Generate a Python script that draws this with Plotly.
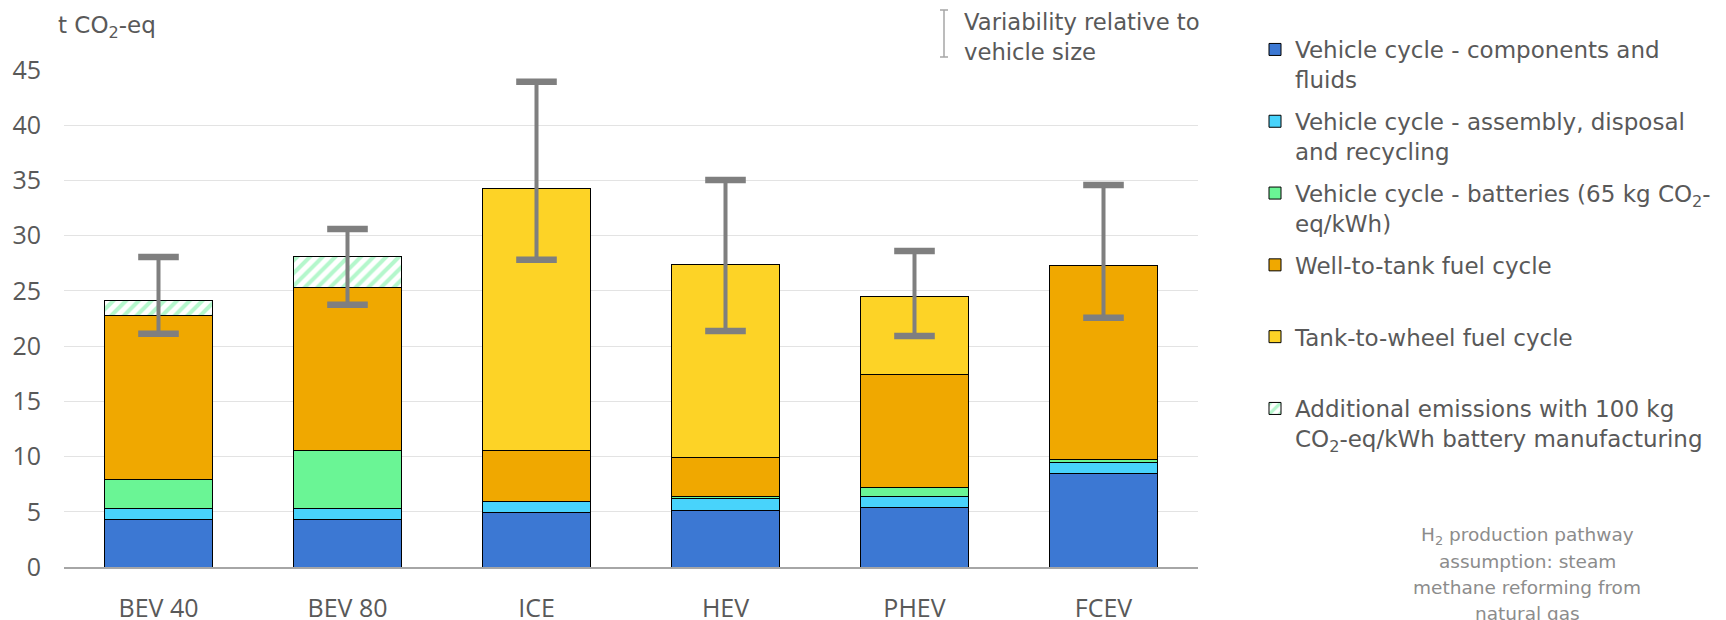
import plotly.graph_objects as go

# ---------------- data ----------------
categories = ["BEV 40", "BEV 80", "ICE", "HEV", "PHEV", "FCEV"]
components = [4.26, 4.26, 4.94, 5.16, 5.37, 8.49]
assembly = [1.00, 1.00, 1.00, 1.00, 1.00, 1.00]
batteries = [2.65, 5.30, None, 0.21, 0.79, 0.28]
well_to_tank = [14.82, 14.79, 4.62, 3.51, 10.31, 17.55]
tank_to_wheel = [None, None, 23.67, 17.55, 7.02, None]
additional = [1.44, 2.76, None, None, None, None]
err_high = [28.07, 30.61, 43.93, 35.05, 28.61, 34.59]
err_low = [21.12, 23.74, 27.82, 21.37, 20.91, 22.56]

series_names = [
    "Vehicle cycle - components and<br>fluids",
    "Vehicle cycle - assembly, disposal<br>and recycling",
    "Vehicle cycle - batteries (65 kg CO<sub>2</sub>-<br>eq/kWh)",
    "Well-to-tank fuel cycle<br> ",
    "Tank-to-wheel fuel cycle<br> ",
    "Additional emissions with 100 kg<br>CO<sub>2</sub>-eq/kWh battery manufacturing",
]
y_ticks = [0, 5, 10, 15, 20, 25, 30, 35, 40, 45]

# ---------------- geometry helpers ----------------
W, H = 1726, 620
L, R, T, B = 64, 1198, 70, 567


def px_x(px):
    return (px - L) / (R - L)


def px_y(py):
    return (B - py) / (B - T)


GRAY_TXT = "#595959"
TXT_FONT = "DejaVu Sans"
colors = ["#3C78D3", "#48D3FB", "#6AF595", "#F0A800", "#FDD326"]
series_vals = [components, assembly, batteries, well_to_tank, tank_to_wheel]

fig = go.Figure()
for i, (vals, col) in enumerate(zip(series_vals, colors)):
    fig.add_trace(go.Bar(
        x=categories, y=vals, name=series_names[i],
        legendgroup=f"g{i}",
        marker=dict(color=col, line=dict(color="black", width=1)),
    ))

fig.add_trace(go.Bar(
    x=categories, y=additional, name=series_names[5], legendgroup="g5",
    marker=dict(color="white", line=dict(color="black", width=1),
                pattern=dict(shape="/", fgcolor="#6AF09A", bgcolor="white",
                             size=9, solidity=0.45, fillmode="overlay")),
))

# error bar stems
mid = [(h + l) / 2 for h, l in zip(err_high, err_low)]
half = [(h - l) / 2 for h, l in zip(err_high, err_low)]
fig.add_trace(go.Scatter(
    x=categories, y=mid, mode="markers", showlegend=False,
    marker=dict(size=1, color="rgba(0,0,0,0)"),
    error_y=dict(type="data", array=half, visible=True, width=0,
                 thickness=4, color="#7F7F7F"),
    hoverinfo="skip",
))
# error bar caps
fig.add_trace(go.Scatter(
    x=categories + categories, y=err_high + err_low, mode="markers",
    showlegend=False,
    marker=dict(symbol="line-ew", size=29,
                line=dict(width=6.5, color="#7F7F7F")),
    hoverinfo="skip",
))

annotations = [
    dict(text="t CO<sub>2</sub>-eq", x=px_x(56), y=px_y(27), xref="paper", yref="paper",
         xanchor="left", yanchor="middle", showarrow=False,
         font=dict(family=TXT_FONT, size=23, color=GRAY_TXT)),
    dict(text="Variability relative to", x=px_x(962), y=px_y(22), xref="paper", yref="paper",
         xanchor="left", yanchor="middle", showarrow=False,
         font=dict(family=TXT_FONT, size=22.7, color=GRAY_TXT)),
    dict(text="vehicle size", x=px_x(962), y=px_y(52), xref="paper", yref="paper",
         xanchor="left", yanchor="middle", showarrow=False,
         font=dict(family=TXT_FONT, size=22.7, color=GRAY_TXT)),
]
note_lines = ["H<sub>2</sub> production pathway", "assumption: steam",
              "methane reforming from", "natural gas"]
note_y = [536, 561.5, 587, 613]
for txt, yy in zip(note_lines, note_y):
    annotations.append(dict(text=txt, x=px_x(1527), y=px_y(yy), xref="paper", yref="paper",
                            xanchor="center", yanchor="middle", showarrow=False,
                            font=dict(family=TXT_FONT, size=18.5, color="#8C8C8C")))

shapes = [
    dict(type="line", xref="paper", yref="paper", x0=px_x(944), x1=px_x(944),
         y0=px_y(10), y1=px_y(57), line=dict(color="#A6A6A6", width=1.5)),
    dict(type="line", xref="paper", yref="paper", x0=px_x(940), x1=px_x(948),
         y0=px_y(10), y1=px_y(10), line=dict(color="#A6A6A6", width=1.5)),
    dict(type="line", xref="paper", yref="paper", x0=px_x(940), x1=px_x(948),
         y0=px_y(57), y1=px_y(57), line=dict(color="#A6A6A6", width=1.5)),
]

fig.update_layout(
    width=W, height=H,
    margin=dict(l=L, r=W - R, t=T, b=H - B, pad=0, autoexpand=False),
    paper_bgcolor="white", plot_bgcolor="white",
    barmode="stack", bargap=0.43,
    font=dict(family=TXT_FONT, color=GRAY_TXT),
    xaxis=dict(showgrid=False, showline=True, linecolor="#A6A6A6", linewidth=1.5,
               ticks="", ticklabelstandoff=18, automargin=False,
               tickfont=dict(family="Open Sans", size=25, color=GRAY_TXT)),
    yaxis=dict(range=[0, 45], tickvals=y_ticks, showgrid=True, gridcolor="#E3E3E3",
               gridwidth=1.3, zeroline=False, showline=False, ticks="",
               ticklabelstandoff=22, automargin=False,
               tickfont=dict(family="Open Sans", size=25, color=GRAY_TXT)),
    legend=dict(x=px_x(1255), y=px_y(28), xanchor="left", yanchor="top",
                traceorder="grouped", tracegroupgap=9, valign="top", maxheight=620,
                font=dict(family=TXT_FONT, size=23, color=GRAY_TXT),
                bgcolor="rgba(0,0,0,0)"),
    annotations=annotations,
    shapes=shapes,
    showlegend=True,
)

fig.write_html("out.html")
